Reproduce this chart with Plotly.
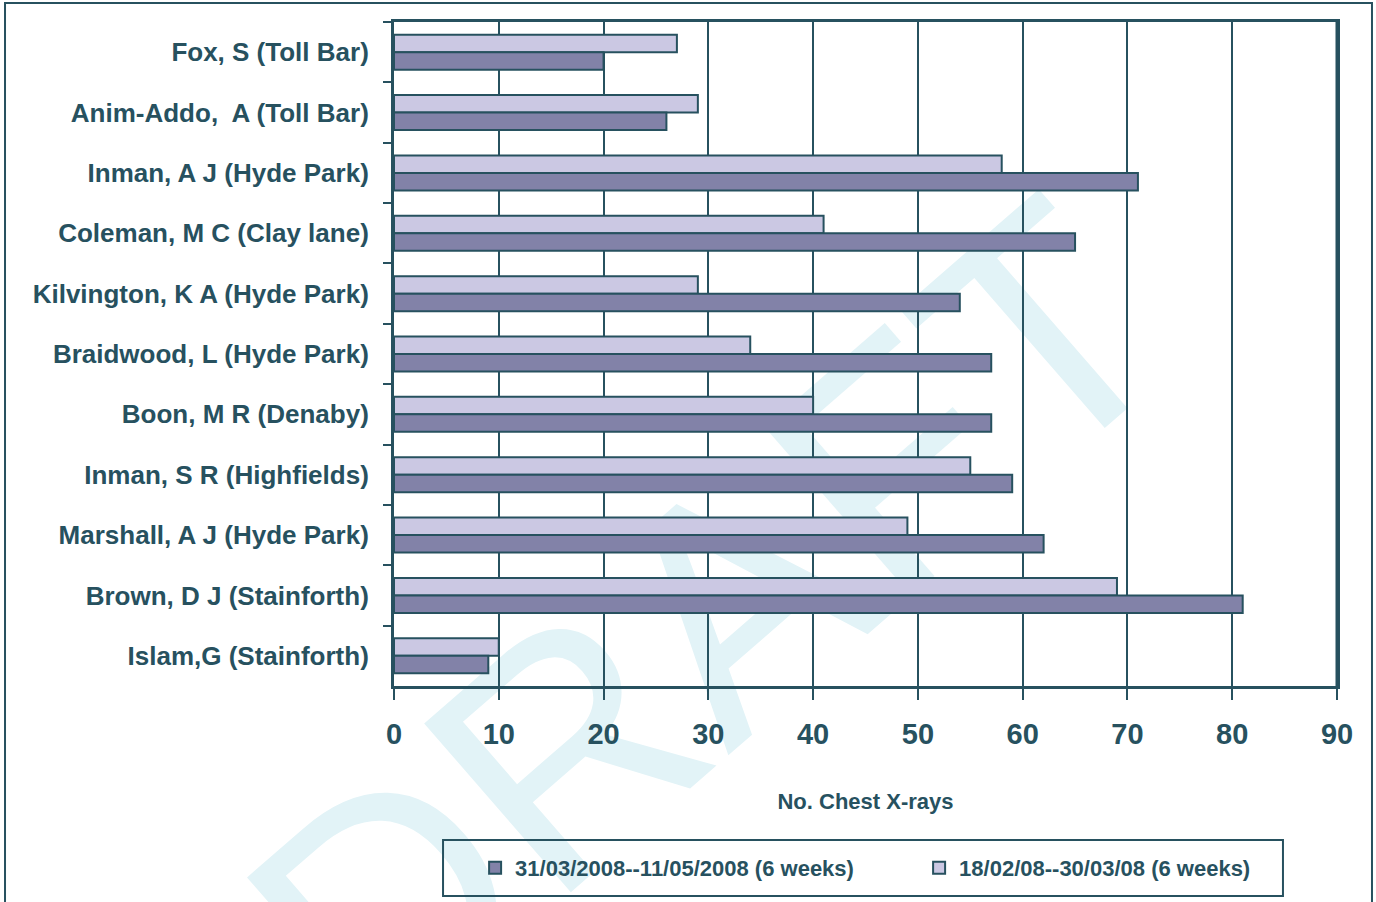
import plotly.graph_objects as go

# Practices (top to bottom) and chest X-ray counts for the two 6-week periods
practices = [
    "Fox, S (Toll Bar)",
    "Anim-Addo,  A (Toll Bar)",
    "Inman, A J (Hyde Park)",
    "Coleman, M C (Clay lane)",
    "Kilvington, K A (Hyde Park)",
    "Braidwood, L (Hyde Park)",
    "Boon, M R (Denaby)",
    "Inman, S R (Highfields)",
    "Marshall, A J (Hyde Park)",
    "Brown, D J (Stainforth)",
    "Islam,G (Stainforth)",
]
period_recent = "31/03/2008--11/05/2008 (6 weeks)"
period_earlier = "18/02/08--30/03/08 (6 weeks)"
xrays_recent = [20, 26, 71, 65, 54, 57, 57, 59, 62, 81, 9]
xrays_earlier = [27, 29, 58, 41, 29, 34, 40, 55, 49, 69, 10]
x_ticks = [0, 10, 20, 30, 40, 50, 60, 70, 80, 90]

INK = "#27515f"
DARK_BAR = "#8282a8"
LIGHT_BAR = "#cbc8e3"
WATERMARK = "#e2f3f7"
FONT = "Liberation Sans, Arial, sans-serif"

fig = go.Figure()
fig.add_trace(go.Bar(
    y=practices, x=xrays_earlier, name=period_earlier, orientation="h",
    marker=dict(color=LIGHT_BAR, line=dict(color=INK, width=2)),
))
fig.add_trace(go.Bar(
    y=practices, x=xrays_recent, name=period_recent, orientation="h",
    marker=dict(color=DARK_BAR, line=dict(color=INK, width=2)),
))

shapes = [
    # outer frame
    dict(type="rect", xref="paper", yref="paper", x0=-0.4125, x1=1.0371,
         y0=-0.40, y1=1.0286, line=dict(color=INK, width=2), layer="above"),
    # legend frame
    dict(type="rect", xref="paper", yref="paper", x0=0.052, x1=0.9427,
         y0=-0.3163, y1=-0.2319, line=dict(color=INK, width=2), layer="above"),
    # thicker right edge of the plot area
    dict(type="line", xref="paper", yref="paper", x0=1, x1=1, y0=0, y1=1,
         line=dict(color=INK, width=3), layer="above"),
    # DRAFT watermark behind everything
    dict(type="rect", xref="paper", yref="paper", x0=0.307, x1=0.317,
         y0=0.1245, y1=0.1345, line=dict(width=0), fillcolor="rgba(0,0,0,0)",
         layer="below",
         label=dict(text="DRAFT", textangle=-41, textposition="middle center",
                    font=dict(family="Liberation Sans, sans-serif",
                              size=325, color=WATERMARK))),
]

fig.update_layout(
    width=1376, height=902,
    margin=dict(l=394, r=39, t=22, b=216, autoexpand=False),
    paper_bgcolor="white",
    plot_bgcolor="rgba(0,0,0,0)",
    barmode="group",
    bargap=0.42,
    bargroupgap=0,
    font=dict(family=FONT, color=INK, size=26),
    shapes=shapes,
    showlegend=True,
    legend=dict(
        orientation="h", traceorder="reversed",
        x=0.086, xanchor="left", y=-0.274, yanchor="middle",
        font=dict(family=FONT, size=22, color=INK, weight="bold"),
        bgcolor="rgba(0,0,0,0)", borderwidth=0,
        entrywidth=399, entrywidthmode="pixels",
    ),
    xaxis=dict(
        range=[0, 90], tickvals=x_ticks, ticktext=[str(v) for v in x_ticks],
        showgrid=True, gridcolor=INK, gridwidth=2,
        showline=True, linecolor=INK, linewidth=3, mirror=True,
        ticks="outside", ticklen=11, tickwidth=2, tickcolor=INK,
        tickfont=dict(family=FONT, size=29, color=INK, weight="bold"),
        ticklabelstandoff=9,
        title=dict(text="No. Chest X-rays", standoff=45,
                   font=dict(family=FONT, size=22, color=INK, weight="bold")),
        zeroline=False, fixedrange=True, automargin=False,
    ),
    yaxis=dict(
        categoryorder="array", categoryarray=practices, autorange="reversed",
        showgrid=False,
        showline=True, linecolor=INK, linewidth=3, mirror=True,
        ticks="outside", ticklen=8, tickwidth=2, tickcolor=INK,
        tickson="boundaries",
        tickfont=dict(family=FONT, size=26, color=INK, weight="bold"),
        ticklabelstandoff=17,
        fixedrange=True, automargin=False,
    ),
)

fig.write_html("out.html")
